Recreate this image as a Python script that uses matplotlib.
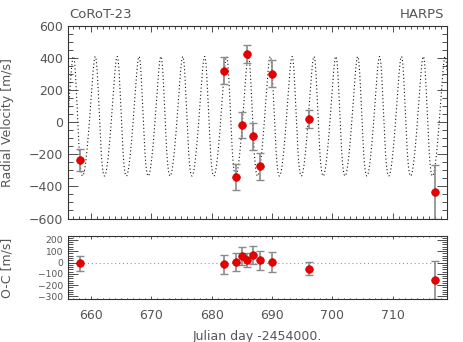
import numpy as np
import matplotlib
matplotlib.use('Agg')
import matplotlib.pyplot as plt
from matplotlib.ticker import MultipleLocator

# ---- data ----
jd = [658.18, 682.09, 684.03, 684.98, 685.94, 686.93, 688.04, 690.05, 696.13, 717.01]
rv = [-237, 322, -341, -16, 426, -88, -275, 302, 20, -437]
rv_err = [68, 82, 80, 82, 58, 82, 84, 85, 56, 168]
oc = [-7, -16, 4, 57, 22, 66, 22, 4, -55, -155]

# ---- orbital model parameters (Keplerian fit shown as dotted curve) ----
period = 3.6235
t_peri = 657.49
ecc = 0.16
omega_deg = 52.0
K_amp = 372.5
gamma = 0.8

title_left = "CoRoT-23"
title_right = "HARPS"
xlabel = "Julian day -2454000."
ylabel_top = "Radial Velocity [m/s]"
ylabel_bot = "O-C [m/s]"


def kepler_rv(t):
    M = 2 * np.pi * (t - t_peri) / period
    E = M.copy()
    for _ in range(30):
        E = E - (E - ecc * np.sin(E) - M) / (1 - ecc * np.cos(E))
    nu = 2 * np.arctan2(np.sqrt(1 + ecc) * np.sin(E / 2), np.sqrt(1 - ecc) * np.cos(E / 2))
    w = np.radians(omega_deg)
    return K_amp * (np.cos(nu + w) + ecc * np.cos(w)) + gamma


TXT = '#555555'
FRAME = '#333333'
plt.rcParams['font.family'] = ['DejaVu Sans']
plt.rcParams['font.size'] = 9

fig = plt.figure(figsize=(4.63, 3.42), dpi=100)
W, H = 463.0, 342.0
L, R = 68, 447
ax1 = fig.add_axes([L / W, 1 - 218.5 / H, (R - L) / W, (218.5 - 26) / H])
ax2 = fig.add_axes([L / W, 1 - 299.3 / H, (R - L) / W, (299.3 - 235.7) / H])

xmin, xmax = 656.2, 719.0
tgrid = np.linspace(xmin, xmax, 4000)
ax1.plot(tgrid, kepler_rv(tgrid), color='#111111', lw=0.8, linestyle=(0, (1, 2.2)), zorder=1)

def draw_points(ax, y):
    _, caps, bars = ax.errorbar(jd, y, yerr=rv_err, fmt='none', ecolor='#8a8a8a',
                                elinewidth=1.2, capsize=3, capthick=1.0, zorder=2)
    for c in caps:
        c.set_color('#444444')
    ax.plot(jd, y, 'o', color='#e80000', ms=5.5, mec='#cc0000', mew=0.5, zorder=3,
            clip_on=False)

draw_points(ax1, rv)
ax2.axhline(0, color='#999999', lw=0.8, linestyle=(0, (1, 2.5)), zorder=1)
draw_points(ax2, oc)

ax1.set_xlim(xmin, xmax)
ax2.set_xlim(xmin, xmax)
ax1.set_ylim(-600, 600)
ax2.set_ylim(-325, 237)

for ax in (ax1, ax2):
    for s in ax.spines.values():
        s.set_color(FRAME)
        s.set_linewidth(0.8)
    ax.xaxis.set_major_locator(MultipleLocator(10))
    ax.xaxis.set_minor_locator(MultipleLocator(1))
    ax.tick_params(which='both', direction='in', top=True, right=True,
                   colors=FRAME, labelcolor=TXT, labelsize=9, width=0.6)

ax1.yaxis.set_major_locator(MultipleLocator(200))
ax1.yaxis.set_minor_locator(MultipleLocator(50))
ax1.tick_params(axis='x', which='major', length=4, labelbottom=False)
ax1.tick_params(axis='x', which='minor', length=2)
ax1.tick_params(axis='y', which='major', length=7, pad=3.5)
ax1.tick_params(axis='y', which='minor', length=3.5)

ax2.yaxis.set_major_locator(MultipleLocator(100))
ax2.yaxis.set_minor_locator(MultipleLocator(20))
ax2.tick_params(axis='x', which='major', length=2, pad=7)
ax2.tick_params(axis='x', which='minor', length=1)
ax2.tick_params(axis='y', which='major', length=7, pad=3.5, labelsize=6.6)
ax2.tick_params(axis='y', which='minor', length=3.5)

ax1.set_ylabel(ylabel_top, color=TXT, fontsize=9)
ax1.yaxis.set_label_coords(-0.143, 0.5)
ax2.set_ylabel(ylabel_bot, color=TXT, fontsize=9)
ax2.yaxis.set_label_coords(-0.143, 0.5)
ax2.set_xlabel(xlabel, color=TXT, fontsize=9)
ax2.xaxis.set_label_coords(0.5, -0.48)

fig.text(69 / W, 1 - 14 / H, title_left, color=TXT, fontsize=9.5, ha='left', va='center')
fig.text(444 / W, 1 - 14 / H, title_right, color=TXT, fontsize=9.5, ha='right', va='center')

fig.savefig('out.png', dpi=100)
